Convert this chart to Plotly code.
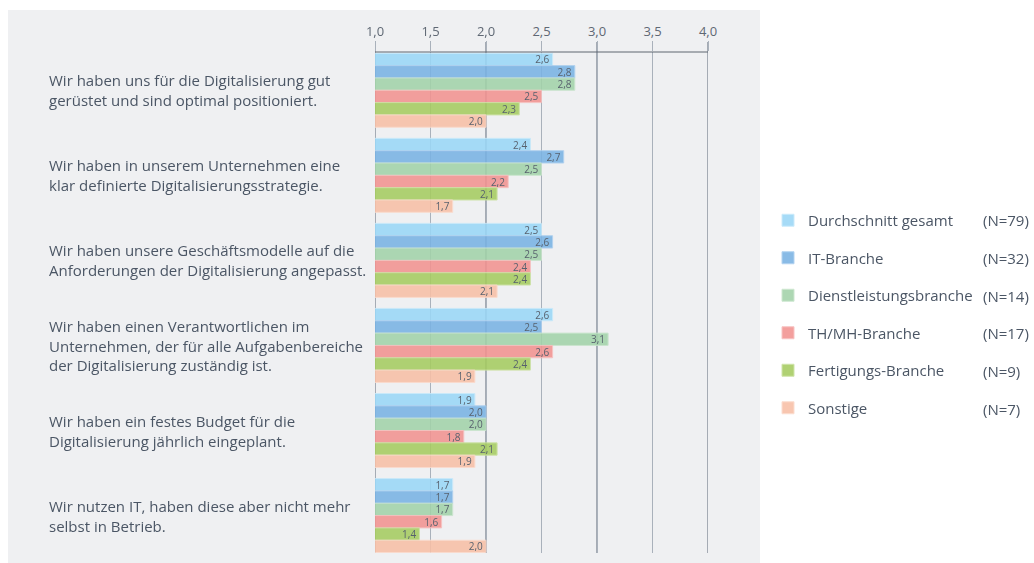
import plotly.graph_objects as go

# ---- data ----
statements = [
    "Wir haben uns für die Digitalisierung gut<br>gerüstet und sind optimal positioniert.",
    "Wir haben in unserem Unternehmen eine<br>klar definierte Digitalisierungsstrategie.",
    "Wir haben unsere Geschäftsmodelle auf die<br>Anforderungen der Digitalisierung angepasst.",
    "Wir haben einen Verantwortlichen im<br>Unternehmen, der für alle Aufgabenbereiche<br>der Digitalisierung zuständig ist.",
    "Wir haben ein festes Budget für die<br>Digitalisierung jährlich eingeplant.",
    "Wir nutzen IT, haben diese aber nicht mehr<br>selbst in Betrieb.",
]
series_names = ["Durchschnitt gesamt", "IT-Branche", "Dienstleistungsbranche",
                "TH/MH-Branche", "Fertigungs-Branche", "Sonstige"]
series_n = ["(N=79)", "(N=32)", "(N=14)", "(N=17)", "(N=9)", "(N=7)"]
durchschnitt = [2.6, 2.4, 2.5, 2.6, 1.9, 1.7]
it_branche = [2.8, 2.7, 2.6, 2.5, 2.0, 1.7]
dienstleistung = [2.8, 2.5, 2.5, 3.1, 2.0, 1.7]
th_mh = [2.5, 2.2, 2.4, 2.6, 1.8, 1.6]
fertigung = [2.3, 2.1, 2.4, 2.4, 2.1, 1.4]
sonstige = [2.0, 1.7, 2.1, 1.9, 1.9, 2.0]
series_values = [durchschnitt, it_branche, dienstleistung, th_mh, fertigung, sonstige]
tick_vals = [1.0, 1.5, 2.0, 2.5, 3.0, 3.5, 4.0]

# ---- style ----
colors = ["#9ad6f6", "#79b2e3", "#a2d2a9", "#f29290", "#a6cb60", "#f8bfa6"]
edge_colors = ["#c4e8fa", "#a9cdee", "#c6e3ca", "#f6bcbb", "#c9e09e", "#fbd8c9"]
text_color = "#4b5665"
W, H = 1034, 563
L, R, T, B = 375, 708, 52, 553

def px_x(p):
    return (p - L) / (R - L)

def px_y(p):
    return (B - p) / (B - T)

cats = list(range(len(statements)))
fig = go.Figure()
for name, vals, c, ec in zip(series_names, series_values, colors, edge_colors):
    fig.add_trace(go.Bar(
        y=cats, x=vals, orientation="h", name=name,
        marker=dict(color=c, line=dict(color=ec, width=1)),
        opacity=0.88,
        text=vals, texttemplate="%{x:.1f}", textposition="inside",
        insidetextanchor="end", constraintext="none",
        textfont=dict(size=10, color="#434d5b", family="Open Sans"),
        legendgroup=name, showlegend=True,
    ))

# statement labels
for i, s in enumerate(statements):
    fig.add_annotation(
        x=px_x(47), xref="paper", y=i, yref="y", text=s, showarrow=False,
        xanchor="left", yanchor="middle", align="left",
        font=dict(size=15, color=text_color, family="Open Sans"),
    )

# N annotations next to legend
legend_rows = [220, 258, 296, 333, 371, 409]
for n, py in zip(series_n, legend_rows):
    fig.add_annotation(
        x=px_x(981), xref="paper", y=px_y(py), yref="paper", text=n,
        showarrow=False, xanchor="left", yanchor="middle",
        font=dict(size=15, color=text_color, family="Open Sans"),
    )

# gray panel
fig.add_shape(type="rect", xref="paper", yref="paper", layer="below",
              x0=px_x(8), x1=px_x(760), y0=px_y(575), y1=px_y(10),
              fillcolor="#eff0f2", line=dict(width=0))
# darker gridlines at whole numbers
for v in tick_vals:
    if float(v).is_integer():
        fig.add_shape(type="line", xref="x", yref="paper", layer="below",
                      x0=v, x1=v, y0=0, y1=1.0 + 10 / (B - T),
                      line=dict(color="#7d8692", width=1.3))
# top line
fig.add_shape(type="line", xref="paper", yref="paper",
              x0=0, x1=1, y0=1, y1=1, line=dict(color="#5e6670", width=1))

fig.update_layout(
    width=W, height=H,
    margin=dict(l=L, r=W - R, t=T, b=H - B),
    paper_bgcolor="white", plot_bgcolor="rgba(0,0,0,0)",
    barmode="group", bargap=0.13, bargroupgap=0,
    separators=",.",
    font=dict(family="Open Sans", color=text_color),
    xaxis=dict(range=[1, 4], side="top", tickvals=tick_vals, tickformat=".1f",
               showgrid=True, gridcolor="#a9b1bb", gridwidth=1.2,
               ticks="outside", ticklen=10, tickcolor="#a9b1bb",
               tickfont=dict(size=13, color="#5f6874"), zeroline=False,
               showline=False, fixedrange=True),
    yaxis=dict(range=[5.44, -0.45], showticklabels=False, showgrid=False,
               zeroline=False, fixedrange=True),
    legend=dict(x=px_x(768), xanchor="left", y=px_y(204), yanchor="top",
                tracegroupgap=15, font=dict(size=15, color=text_color, family="Open Sans"),
                bgcolor="rgba(0,0,0,0)", itemclick=False),
    showlegend=True,
)

fig.write_html(
    "out.html",
    config={"displayModeBar": False},
    post_script="document.body.style.margin='0';document.body.style.overflow='hidden';",
)
